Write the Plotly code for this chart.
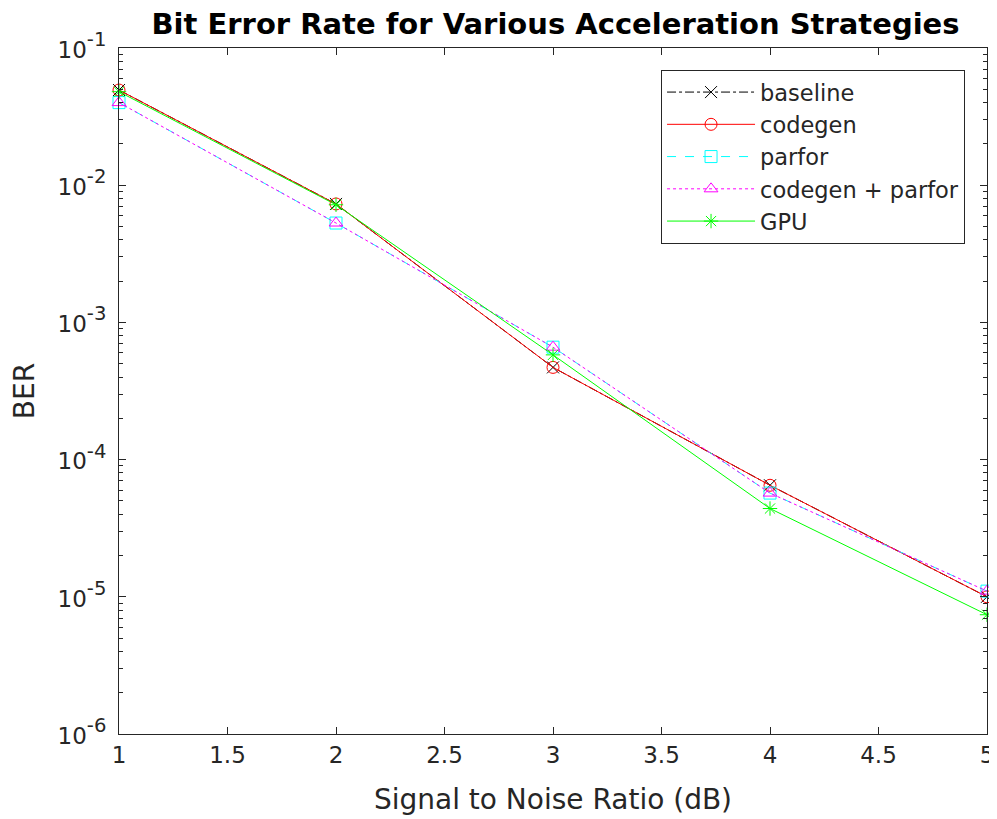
import plotly.graph_objects as go

snr = [1, 2, 3, 4, 5]
ber_baseline = [0.0494, 0.0073, 4.7e-4, 6.5e-5, 1.0e-5]
ber_codegen = [0.0494, 0.0073, 4.7e-4, 6.5e-5, 1.0e-5]
ber_parfor = [0.040, 0.0053, 6.6e-4, 5.7e-5, 1.1e-5]
ber_codegen_parfor = [0.040, 0.0053, 6.6e-4, 5.7e-5, 1.1e-5]
ber_gpu = [0.048, 0.0072, 5.8e-4, 4.4e-5, 7.4e-6]

series = [
    ("baseline", ber_baseline, "#000000", "dashdot", "x-thin-open"),
    ("codegen", ber_codegen, "#FF0000", "solid", "circle-open"),
    ("parfor", ber_parfor, "#00FFFF", "dash", "square-open"),
    ("codegen + parfor", ber_codegen_parfor, "#FF00FF", "dot", "triangle-up-open"),
    ("GPU", ber_gpu, "#00FF00", "solid", "asterisk-open"),
]

fig = go.Figure()
for name, y, color, dash, sym in series:
    fig.add_trace(go.Scatter(
        x=snr, y=y, name=name, mode="lines+markers", cliponaxis=False,
        line=dict(color=color, width=1, dash=dash),
        marker=dict(symbol=sym, size=12, color=color, line=dict(color=color, width=1)),
    ))

axis_color = "#262626"
tickvals = [1e-6, 1e-5, 1e-4, 1e-3, 1e-2, 1e-1]
exps = ["-6", "-5", "-4", "-3", "-2", "-1"]
ticktext = ["<span style='font-size:23px'>10</span><sup>%s</sup>" % e for e in exps]

fig.update_layout(
    width=989, height=811,
    margin=dict(l=111, r=10, t=40, b=85),
    paper_bgcolor="white", plot_bgcolor="white",
    font=dict(family="DejaVu Sans", size=23, color=axis_color),
    title=dict(text="<b>Bit Error Rate for Various Acceleration Strategies</b>",
               x=0.5536, xanchor="center", y=0.981, yanchor="middle",
               font=dict(size=29, color="#000000")),
    legend=dict(x=0.9747, y=0.968, xanchor="right", yanchor="top",
                bgcolor="white", bordercolor=axis_color, borderwidth=1,
                font=dict(size=22.5, color=axis_color), tracegroupgap=0,
                itemwidth=88),
    showlegend=True,
)
fig.update_xaxes(
    range=[1, 5], tickvals=[1, 1.5, 2, 2.5, 3, 3.5, 4, 4.5, 5],
    ticktext=["1", "1.5", "2", "2.5", "3", "3.5", "4", "4.5", "5"],
    tickfont=dict(size=23), automargin=False,
    ticks="inside", ticklen=7, tickcolor=axis_color, showline=True, linecolor=axis_color,
    linewidth=1, mirror="ticks", showgrid=False, zeroline=False,
    title=dict(text="Signal to Noise Ratio (dB)", font=dict(size=28), standoff=22),
)
fig.update_yaxes(
    type="log", range=[-6, -1], tickvals=tickvals, ticktext=ticktext,
    tickfont=dict(size=28), automargin=False, ticklabelstandoff=6,
    ticks="inside", ticklen=7, tickcolor=axis_color, showline=True, linecolor=axis_color,
    linewidth=1, mirror="ticks", showgrid=False, zeroline=False,
    minor=dict(ticks="inside", ticklen=4, tickcolor=axis_color, dtick="D1", showgrid=False),
    title=dict(text="BER", font=dict(size=28), standoff=14),
)

fig.write_html("out.html")
